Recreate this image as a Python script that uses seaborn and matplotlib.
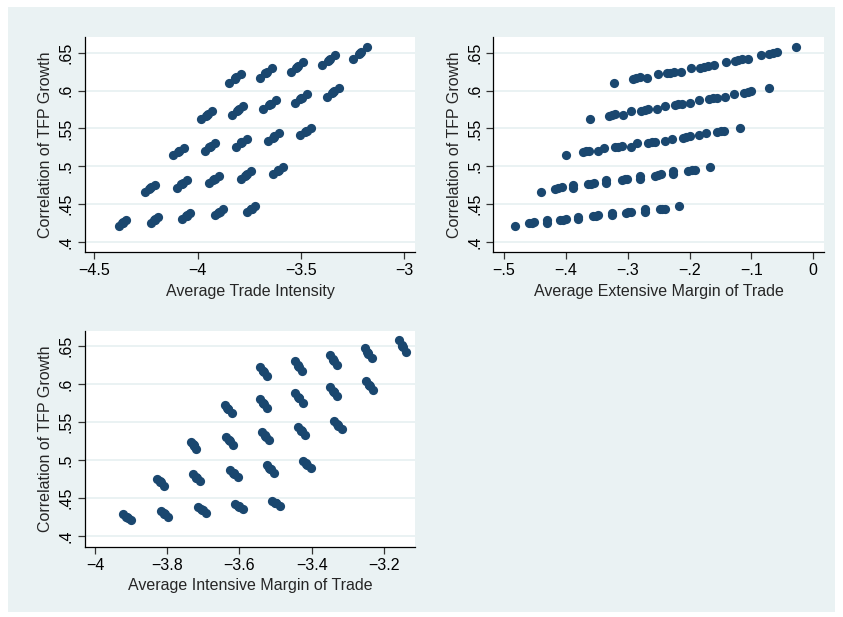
import matplotlib
matplotlib.use("Agg")
import matplotlib.pyplot as plt
from matplotlib.patches import Rectangle
import seaborn as sns
import pandas as pd

# ---------------- data (5 rows x 5 clusters x 5 points) ----------------
y_r0 = [0.4208, 0.4246, 0.4253, 0.4259, 0.4292, 0.4257, 0.4291, 0.4297, 0.4303, 0.4333,
        0.4305, 0.4340, 0.4346, 0.4352, 0.4382, 0.4355, 0.4389, 0.4395, 0.4401, 0.4430,
        0.4399, 0.4431, 0.4436, 0.4442, 0.4469]
y_r1 = [0.4665, 0.4706, 0.4714, 0.4721, 0.4757, 0.4719, 0.4763, 0.4770, 0.4778, 0.4816,
        0.4774, 0.4819, 0.4828, 0.4836, 0.4875, 0.4834, 0.4878, 0.4886, 0.4894, 0.4932,
        0.4899, 0.4940, 0.4948, 0.4955, 0.4991]
y_r2 = [0.5145, 0.5189, 0.5197, 0.5205, 0.5243, 0.5202, 0.5248, 0.5257, 0.5265, 0.5305,
        0.5261, 0.5308, 0.5317, 0.5325, 0.5366, 0.5331, 0.5378, 0.5387, 0.5395, 0.5436,
        0.5408, 0.5453, 0.5460, 0.5468, 0.5507]
y_r3 = [0.5618, 0.5668, 0.5676, 0.5685, 0.5728, 0.5682, 0.5734, 0.5743, 0.5753, 0.5798,
        0.5754, 0.5809, 0.5819, 0.5828, 0.5876, 0.5836, 0.5889, 0.5899, 0.5908, 0.5954,
        0.5915, 0.5971, 0.5981, 0.5991, 0.6040]
y_r4 = [0.6098, 0.6153, 0.6163, 0.6173, 0.6221, 0.6166, 0.6227, 0.6238, 0.6249, 0.6302,
        0.6242, 0.6303, 0.6314, 0.6324, 0.6377, 0.6333, 0.6393, 0.6404, 0.6415, 0.6467,
        0.6421, 0.6489, 0.6501, 0.6513, 0.6572]

ti_r0 = [-4.380, -4.364, -4.361, -4.359, -4.345, -4.227, -4.211, -4.208, -4.206, -4.192,
         -4.074, -4.056, -4.053, -4.050, -4.035, -3.918, -3.900, -3.897, -3.894, -3.879,
         -3.761, -3.743, -3.740, -3.737, -3.721]
ti_r1 = [-4.253, -4.233, -4.229, -4.226, -4.208, -4.098, -4.078, -4.074, -4.071, -4.053,
         -3.945, -3.924, -3.920, -3.916, -3.898, -3.792, -3.770, -3.767, -3.763, -3.744,
         -3.634, -3.613, -3.609, -3.605, -3.587]
ti_r2 = [-4.119, -4.096, -4.092, -4.088, -4.068, -3.966, -3.944, -3.940, -3.936, -3.916,
         -3.816, -3.792, -3.788, -3.784, -3.763, -3.660, -3.637, -3.632, -3.628, -3.608,
         -3.505, -3.481, -3.477, -3.473, -3.452]
ti_r3 = [-3.985, -3.960, -3.955, -3.951, -3.929, -3.834, -3.809, -3.805, -3.800, -3.779,
         -3.682, -3.655, -3.651, -3.646, -3.623, -3.529, -3.504, -3.499, -3.495, -3.473,
         -3.376, -3.350, -3.345, -3.341, -3.318]
ti_r4 = [-3.848, -3.821, -3.817, -3.812, -3.789, -3.698, -3.673, -3.668, -3.664, -3.642,
         -3.550, -3.523, -3.518, -3.513, -3.489, -3.397, -3.370, -3.365, -3.360, -3.336,
         -3.246, -3.217, -3.212, -3.207, -3.182]

em_r0 = [-0.482, -0.459, -0.455, -0.451, -0.431, -0.431, -0.409, -0.405, -0.400, -0.380,
         -0.380, -0.356, -0.352, -0.348, -0.326, -0.326, -0.303, -0.299, -0.294, -0.272,
         -0.272, -0.248, -0.244, -0.239, -0.217]
em_r1 = [-0.441, -0.417, -0.412, -0.407, -0.389, -0.389, -0.365, -0.359, -0.354, -0.335,
         -0.335, -0.310, -0.305, -0.301, -0.280, -0.280, -0.256, -0.251, -0.246, -0.227,
         -0.227, -0.202, -0.196, -0.191, -0.167]
em_r2 = [-0.400, -0.373, -0.368, -0.363, -0.338, -0.348, -0.321, -0.315, -0.310, -0.285,
         -0.294, -0.267, -0.261, -0.256, -0.229, -0.240, -0.211, -0.206, -0.200, -0.174,
         -0.184, -0.155, -0.150, -0.144, -0.118]
em_r3 = [-0.361, -0.331, -0.326, -0.321, -0.294, -0.307, -0.278, -0.272, -0.267, -0.240,
         -0.253, -0.224, -0.218, -0.212, -0.184, -0.199, -0.168, -0.162, -0.156, -0.128,
         -0.143, -0.112, -0.106, -0.100, -0.071]
em_r4 = [-0.322, -0.291, -0.286, -0.280, -0.251, -0.269, -0.237, -0.232, -0.226, -0.197,
         -0.214, -0.183, -0.177, -0.170, -0.141, -0.160, -0.127, -0.122, -0.116, -0.085,
         -0.105, -0.071, -0.065, -0.058, -0.028]

im_r0 = [-3.901, -3.910, -3.912, -3.914, -3.922, -3.797, -3.806, -3.808, -3.809, -3.817,
         -3.693, -3.702, -3.704, -3.706, -3.714, -3.589, -3.600, -3.602, -3.604, -3.613,
         -3.488, -3.498, -3.500, -3.502, -3.511]
im_r1 = [-3.809, -3.818, -3.820, -3.821, -3.829, -3.708, -3.718, -3.720, -3.721, -3.730,
         -3.605, -3.614, -3.616, -3.618, -3.626, -3.504, -3.513, -3.515, -3.517, -3.525,
         -3.403, -3.413, -3.415, -3.416, -3.425]
im_r2 = [-3.719, -3.726, -3.727, -3.729, -3.735, -3.617, -3.626, -3.628, -3.629, -3.637,
         -3.517, -3.526, -3.528, -3.530, -3.538, -3.419, -3.428, -3.430, -3.431, -3.439,
         -3.317, -3.326, -3.328, -3.330, -3.338]
im_r3 = [-3.622, -3.631, -3.632, -3.634, -3.641, -3.523, -3.532, -3.534, -3.535, -3.543,
         -3.425, -3.434, -3.436, -3.437, -3.445, -3.329, -3.338, -3.339, -3.341, -3.348,
         -3.230, -3.239, -3.241, -3.242, -3.250]
im_r4 = [-3.525, -3.533, -3.535, -3.536, -3.543, -3.428, -3.436, -3.438, -3.439, -3.446,
         -3.331, -3.339, -3.340, -3.341, -3.348, -3.234, -3.243, -3.244, -3.246, -3.253,
         -3.139, -3.148, -3.149, -3.151, -3.158]

y_ticks = [0.40, 0.45, 0.50, 0.55, 0.60, 0.65]
y_tick_labels = [".4", ".45", ".5", ".55", ".6", ".65"]
ti_ticks = [-4.5, -4.0, -3.5, -3.0]
ti_tick_labels = ["\u22124.5", "\u22124", "\u22123.5", "\u22123"]
em_ticks = [-0.5, -0.4, -0.3, -0.2, -0.1, 0.0]
em_tick_labels = ["\u2212.5", "\u2212.4", "\u2212.3", "\u2212.2", "\u2212.1", "0"]
im_ticks = [-4.0, -3.8, -3.6, -3.4, -3.2]
im_tick_labels = ["\u22124", "\u22123.8", "\u22123.6", "\u22123.4", "\u22123.2"]

y_label = "Correlation of TFP Growth"
x_labels = ["Average Trade Intensity", "Average Extensive Margin of Trade",
            "Average Intensive Margin of Trade"]

df = pd.DataFrame({
    "corr": y_r0 + y_r1 + y_r2 + y_r3 + y_r4,
    "ti": ti_r0 + ti_r1 + ti_r2 + ti_r3 + ti_r4,
    "em": em_r0 + em_r1 + em_r2 + em_r3 + em_r4,
    "im": im_r0 + im_r1 + im_r2 + im_r3 + im_r4,
})

# ---------------- style ----------------
sns.set_theme(style="white")
plt.rcParams["font.family"] = ["Liberation Sans", "DejaVu Sans"]
plt.rcParams["axes.unicode_minus"] = True

W, H = 843, 617
fig = plt.figure(figsize=(W / 100, H / 100), dpi=100)
fig.patch.set_facecolor("white")
fig.patches.append(Rectangle((8 / W, 5 / H), 827 / W, 605 / H, transform=fig.transFigure,
                             facecolor="#EAF2F3", edgecolor="none", zorder=-10))

navy = "#1A476F"
grid_c = "#EAF2F3"
fs = 11.5


def make_ax(l, t, r, b):
    return fig.add_axes([l / W, 1 - b / H, (r - l) / W, (b - t) / H])


panels = [
    (make_ax(85, 37, 415, 252), "ti", ti_ticks, ti_tick_labels, (-4.545, -2.948), (0.3868, 0.6707), x_labels[0]),
    (make_ax(493.5, 37, 824, 252), "em", em_ticks, em_tick_labels, (-0.517, 0.0173), (0.3868, 0.6707), x_labels[1]),
    (make_ax(85, 331, 415, 546.5), "im", im_ticks, im_tick_labels, (-4.0277, -3.114), (0.3866, 0.6693), x_labels[2]),
]

for ax, xcol, xt, xtl, xl, yl, xlab in panels:
    ax.set_zorder(1)
    ax.set_facecolor("white")
    sns.scatterplot(data=df, x=xcol, y="corr", ax=ax, color=navy, s=44,
                    linewidth=0, edgecolor=navy, zorder=3)
    ax.set_xlim(*xl)
    ax.set_ylim(*yl)
    ax.set_xticks(xt)
    ax.set_xticklabels(xtl, fontsize=fs)
    ax.set_yticks(y_ticks)
    ax.set_yticklabels(y_tick_labels, fontsize=fs, rotation=90, va="center")
    ax.grid(axis="y", color=grid_c, linewidth=1.4)
    ax.grid(axis="x", visible=False)
    ax.set_axisbelow(True)
    for s in ["top", "right"]:
        ax.spines[s].set_visible(False)
    for s in ["left", "bottom"]:
        ax.spines[s].set_color("black")
        ax.spines[s].set_linewidth(0.9)
    ax.tick_params(axis="both", which="major", direction="out", length=5, width=0.9,
                   color="#333333", labelcolor="black", pad=3, bottom=True, left=True)
    ax.set_xlabel(xlab, fontsize=fs, labelpad=4)
    ax.set_ylabel(y_label, fontsize=fs, labelpad=4)

fig.savefig("out.png", dpi=100, facecolor=fig.get_facecolor())
